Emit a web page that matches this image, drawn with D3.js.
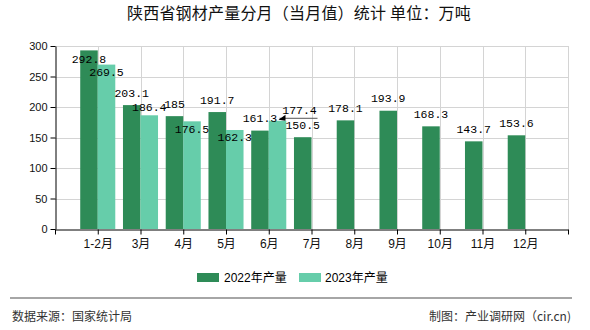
<!DOCTYPE html>
<html>
<head>
<meta charset="utf-8">
<script src="https://cdn.jsdelivr.net/npm/d3@7/dist/d3.min.js"></script>
<style>
  html, body { margin: 0; padding: 0; background: #fff; }
  svg { display: block; }
</style>
</head>
<body>
<svg id="chart" width="590" height="330"></svg>
<script>
// Monthly steel output, Shaanxi (10k tonnes)
const categories = ["1-2月", "3月", "4月", "5月", "6月", "7月", "8月", "9月", "10月", "11月", "12月"];
const output2022 = [292.8, 203.1, 185, 191.7, 161.3, 150.5, 178.1, 193.9, 168.3, 143.7, 153.6];
const output2023 = [269.5, 186.4, 176.5, 162.3, 177.4];
const yTicks = [0, 50, 100, 150, 200, 250, 300];
const seriesNames = ["2022年产量", "2023年产量"];

const colors = ["#2e8b57", "#66cdaa"];
const numFont = "'Liberation Mono', 'DejaVu Sans Mono', monospace";
const cjkFont = "'Liberation Sans', 'Noto Sans CJK SC', sans-serif";

const svg = d3.select("#chart");
const plotL = 55, plotR = 568, plotT = 46, plotB = 229;

const x = d3.scaleLinear().domain([0, categories.length + 1]).range([plotL, plotR]);
const y = d3.scaleLinear().domain([0, 300]).range([plotB, plotT]);
const slot = x(1) - x(0);
const barW = slot * 0.41;

// title
svg.append("text")
  .attr("x", 299).attr("y", 19)
  .attr("text-anchor", "middle")
  .attr("font-family", "'Noto Sans CJK SC', sans-serif")
  .attr("font-size", 16)
  .attr("letter-spacing", 0.2)
  .attr("fill", "#111")
  .text("陕西省钢材产量分月（当月值）统计 单位：万吨");

// grid
const grid = svg.append("g").attr("stroke", "#d4d4d4").attr("stroke-width", 1);
yTicks.filter(v => v > 0).forEach(v => {
  grid.append("line").attr("x1", plotL).attr("x2", plotR)
    .attr("y1", Math.round(y(v)) + 0.5).attr("y2", Math.round(y(v)) + 0.5);
});
d3.range(1, categories.length + 2).forEach(i => {
  grid.append("line").attr("y1", plotT).attr("y2", plotB)
    .attr("x1", Math.round(x(i)) + 0.5).attr("x2", Math.round(x(i)) + 0.5);
});

// bars
const bars = svg.append("g");
output2022.forEach((v, i) => {
  bars.append("rect")
    .attr("x", x(i + 1) - barW).attr("width", barW)
    .attr("y", y(v)).attr("height", y(0) - y(v))
    .attr("fill", colors[0]);
});
output2023.forEach((v, i) => {
  bars.append("rect")
    .attr("x", x(i + 1)).attr("width", barW)
    .attr("y", y(v)).attr("height", y(0) - y(v))
    .attr("fill", colors[1]);
});

// axes
const yAxis = svg.append("g")
  .attr("transform", `translate(${plotL + 0.5},0)`)
  .call(d3.axisLeft(y).tickValues(yTicks).tickSize(5).tickSizeOuter(0).tickPadding(3));
yAxis.selectAll("text").attr("font-family", "'Liberation Sans', sans-serif").attr("font-size", 11).attr("fill", "#111");

const xAxis = svg.append("g")
  .attr("transform", `translate(0,${plotB + 0.5})`)
  .call(d3.axisBottom(x).tickValues(d3.range(0, categories.length + 2)).tickSize(5).tickSizeOuter(0)
    .tickFormat(d => (d >= 1 && d <= categories.length) ? categories[d - 1] : ""));
xAxis.selectAll("text").attr("font-family", cjkFont).attr("font-size", 12).attr("fill", "#111").attr("dy", "0.9em");
svg.selectAll(".domain").attr("stroke", "#000");
svg.selectAll(".tick line").attr("stroke", "#000");

// value labels: centred above each bar, with per-label nudges where labels crowd
const labelNudge2022 = { 0: 21 };
const labelNudge2023 = { 0: 20, 2: 20, 3: 20, 1: 4 };
const labels = svg.append("g")
  .attr("font-family", numFont).attr("font-size", 11.5).attr("fill", "#000")
  .attr("text-anchor", "middle").attr("dominant-baseline", "central");
output2022.forEach((v, i) => {
  labels.append("text")
    .attr("x", x(i + 1) - barW / 2)
    .attr("y", y(v) - 12 + (labelNudge2022[i] || 0))
    .text(v);
});
output2023.forEach((v, i) => {
  if (i === 4) return;
  labels.append("text")
    .attr("x", x(i + 1) + barW / 2)
    .attr("y", y(v) - 12 + (labelNudge2023[i] || 0))
    .text(v);
});
// last 2023 label pulled out to the right with a leader line
{
  const i = 4, v = output2023[i];
  const bx = x(i + 1) + barW / 2 + 2, by = y(v) - 3;
  const lx = bx + 38;
  svg.append("line").attr("x1", bx).attr("x2", lx).attr("y1", by + 0.5).attr("y2", by + 0.5)
    .attr("stroke", "#555").attr("stroke-width", 1);
  svg.append("path")
    .attr("d", `M${bx - 1},${by + 2} L${bx + 6},${by - 3} L${bx + 6},${by + 3} Z`)
    .attr("fill", "#000");
  labels.append("text").attr("x", bx + 20).attr("y", by - 7).text(v);
}

// legend
const legend = svg.append("g");
[[197, 224], [299, 325]].forEach(([sx, tx], k) => {
  legend.append("rect").attr("x", sx).attr("y", 273).attr("width", 22).attr("height", 9).attr("fill", colors[k]);
  legend.append("text").attr("x", tx).attr("y", 278)
    .attr("dominant-baseline", "central")
    .attr("font-family", cjkFont).attr("font-size", 12).attr("fill", "#000")
    .text(seriesNames[k]);
});

// footer
svg.append("line").attr("x1", 10).attr("x2", 572).attr("y1", 298).attr("y2", 298)
  .attr("stroke", "#888").attr("stroke-width", 1.5);
svg.append("text").attr("x", 12).attr("y", 315).attr("dominant-baseline", "central")
  .attr("font-family", "'Noto Sans CJK SC', sans-serif").attr("font-size", 12).attr("fill", "#333")
  .text("数据来源：国家统计局");
svg.append("text").attr("x", 571).attr("y", 315).attr("dominant-baseline", "central")
  .attr("text-anchor", "end")
  .attr("font-family", "'Noto Sans CJK SC', sans-serif").attr("font-size", 12).attr("fill", "#333")
  .text("制图：产业调研网（cir.cn)");
</script>
</body>
</html>
